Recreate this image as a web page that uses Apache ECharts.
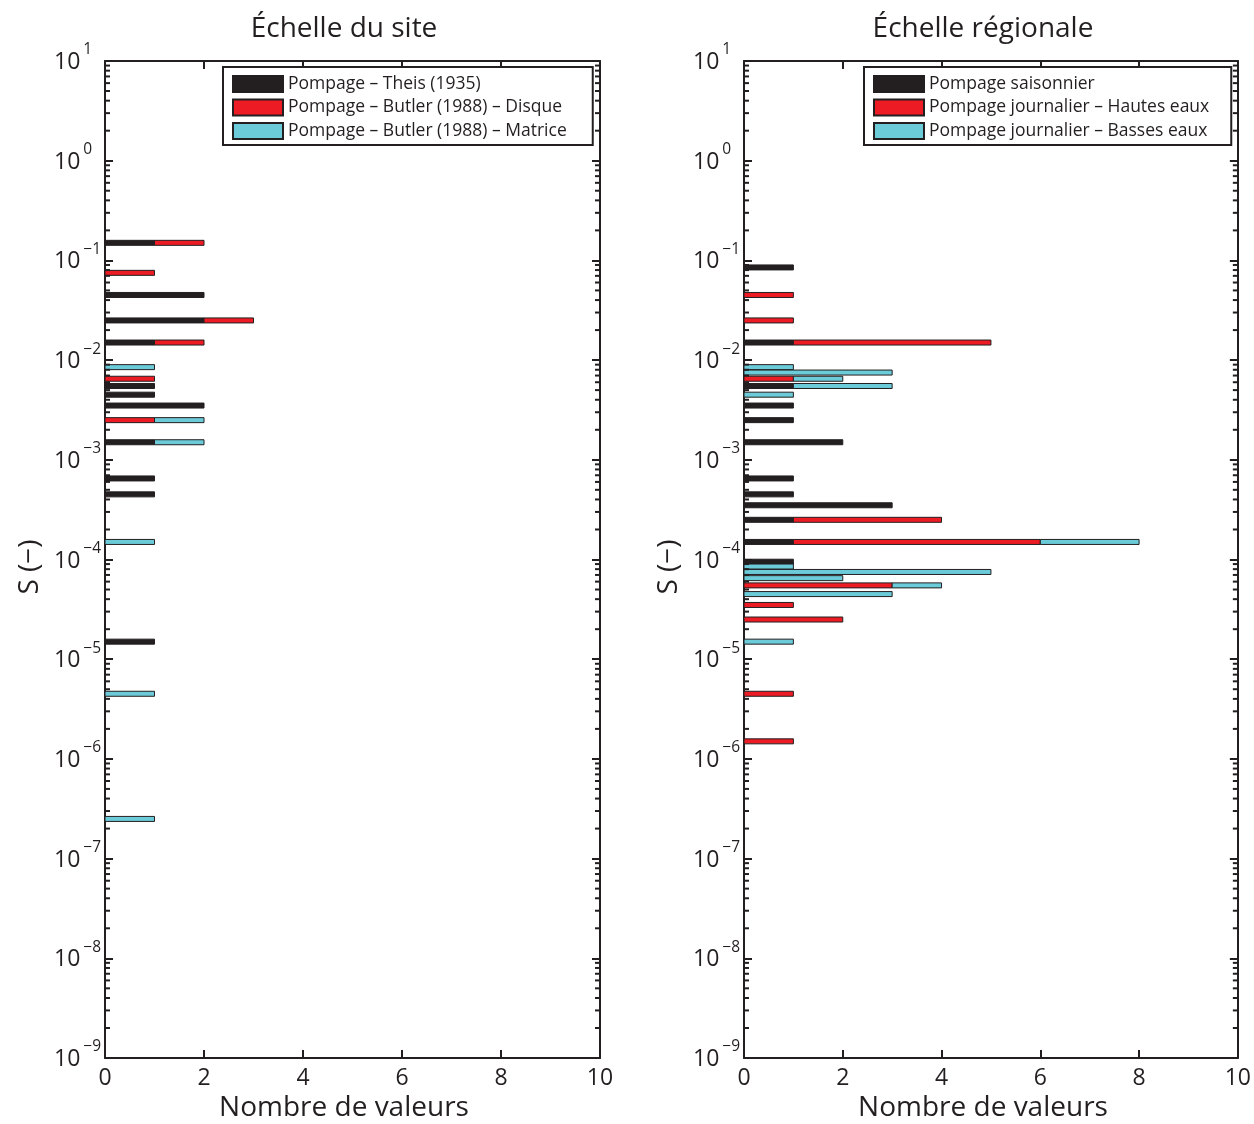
<!DOCTYPE html>
<html>
<head>
<meta charset="utf-8">
<script src="https://cdn.jsdelivr.net/npm/echarts@6/dist/echarts.min.js"></script>
<style>html,body{margin:0;padding:0;background:#fff;}#c{width:1254px;height:1124px;}</style>
</head>
<body>
<div id="c"></div>
<script>
// ---- Data: left panel (Échelle du site) ----
const S_SITE = [0.15, 0.075, 0.045, 0.025, 0.015, 0.0085, 0.0065, 0.0055, 0.0045, 0.0035, 0.0025, 0.0015, 6.5e-4, 4.5e-4, 1.5e-4, 1.5e-5, 4.5e-6, 2.5e-7];
const THEIS   = [1, 0, 2, 2, 1, 0, 0, 1, 1, 2, 0, 1, 1, 1, 0, 1, 0, 0];
const DISQUE  = [1, 1, 0, 1, 1, 0, 1, 0, 0, 0, 1, 0, 0, 0, 0, 0, 0, 0];
const MATRICE = [0, 0, 0, 0, 0, 1, 0, 0, 0, 0, 1, 1, 0, 0, 1, 0, 1, 1];

// ---- Data: right panel (Échelle régionale) ----
const S_REG   = [0.085, 0.045, 0.025, 0.015, 0.0085, 0.0075, 0.0065, 0.0055, 0.0045, 0.0035, 0.0025, 0.0015, 6.5e-4, 4.5e-4, 3.5e-4, 2.5e-4, 1.5e-4, 9.5e-5, 8.5e-5, 7.5e-5, 6.5e-5, 5.5e-5, 4.5e-5, 3.5e-5, 2.5e-5, 1.5e-5, 4.5e-6, 1.5e-6];
const SAISON  = [1, 0, 0, 1, 0, 0, 0, 1, 0, 1, 1, 2, 1, 1, 3, 1, 1, 1, 0, 0, 0, 0, 0, 0, 0, 0, 0, 0];
const HAUTES  = [0, 1, 1, 4, 0, 0, 1, 0, 0, 0, 0, 0, 0, 0, 0, 3, 5, 0, 0, 0, 0, 3, 0, 1, 2, 0, 1, 1];
const BASSES  = [0, 0, 0, 0, 1, 3, 1, 2, 1, 0, 0, 0, 0, 0, 0, 0, 2, 0, 1, 5, 2, 1, 3, 0, 0, 1, 0, 0];

// ---- Labels ----
const TITLES = ['Échelle du site', 'Échelle régionale'];
const NAMES_SITE = ['Pompage – Theis (1935)', 'Pompage – Butler (1988) – Disque', 'Pompage – Butler (1988) – Matrice'];
const NAMES_REG = ['Pompage saisonnier', 'Pompage journalier – Hautes eaux', 'Pompage journalier – Basses eaux'];
const X_NAME = 'Nombre de valeurs';
const Y_NAME = 'S (−)';
const COLORS = ['#231f20', '#ed1c24', '#6ccbd9'];
const INK = '#231f20';
const FONT = '"Open Sans", "Noto Sans", sans-serif';

// minor log ticks (2..9 x 10^k)
const MINOR = [];
for (let k = -9; k <= 0; k++) for (let m = 2; m <= 9; m++) MINOR.push([0, m * Math.pow(10, k)]);

function stacked(S, arrays) {
  const out = arrays.map(() => []);
  S.forEach((s, i) => {
    let acc = 0;
    arrays.forEach((arr, j) => {
      out[j].push([s, acc, acc + arr[i]]);
      acc += arr[i];
    });
  });
  return out;
}

function renderBar(params, api) {
  const s = api.value(0), x0 = api.value(1), x1 = api.value(2);
  if (!(x1 > x0)) return;
  const p0 = api.coord([x0, s]);
  const p1 = api.coord([x1, s]);
  return {
    type: 'rect',
    shape: { x: p0[0], y: p0[1] - 2.5, width: p1[0] - p0[0], height: 5 },
    style: { fill: api.visual('color'), stroke: INK, lineWidth: 1 }
  };
}

function renderMinor(params, api) {
  const p = api.coord([0, api.value(1)]);
  const cs = params.coordSys;
  return {
    type: 'group',
    children: [
      { type: 'line', shape: { x1: cs.x, y1: p[1], x2: cs.x + 5, y2: p[1] }, style: { stroke: INK, lineWidth: 2 } },
      { type: 'line', shape: { x1: cs.x + cs.width - 5, y1: p[1], x2: cs.x + cs.width, y2: p[1] }, style: { stroke: INK, lineWidth: 2 } }
    ]
  };
}

const grids = [
  { left: 105, top: 61, width: 495, height: 997 },
  { left: 744, top: 61, width: 495, height: 997 }
];

const xAxes = [], yAxes = [];
[0, 1].forEach(g => {
  const common = {
    gridIndex: g, type: 'value', min: 0, max: 10, interval: 2,
    axisLine: { onZero: false, lineStyle: { color: INK, width: 2 } },
    axisTick: { inside: true, length: 8, lineStyle: { color: INK, width: 2 } },
    splitLine: { show: false }
  };
  xAxes.push(Object.assign({}, common, {
    position: 'bottom',
    axisLabel: { fontSize: 23, color: INK, fontFamily: FONT, margin: 9 }
  }));
  xAxes.push(Object.assign({}, common, { position: 'top', axisLabel: { show: false } }));
  const ycommon = {
    gridIndex: g, type: 'log', logBase: 10, min: 1e-9, max: 10, splitNumber: 10,
    axisLine: { onZero: false, lineStyle: { color: INK, width: 2 } },
    axisTick: { inside: true, length: 8, lineStyle: { color: INK, width: 2 } },
    splitLine: { show: false }
  };
  yAxes.push(Object.assign({}, ycommon, {
    position: 'left',
    axisLabel: {
      align: 'left', margin: 51, color: INK, fontFamily: FONT,
      formatter: v => '{b|10}{e|' + String(Math.round(Math.log10(v))).replace('-', '−') + '}',
      rich: {
        b: { fontSize: 23, fontFamily: FONT, color: INK, padding: [3, 0, 0, 0] },
        e: { fontSize: 15.5, fontFamily: FONT, color: INK, padding: [0, 0, 22, 3] }
      }
    }
  }));
  yAxes.push(Object.assign({}, ycommon, { position: 'right', axisLabel: { show: false } }));
});

const series = [];
const siteData = stacked(S_SITE, [THEIS, DISQUE, MATRICE]);
const regData = stacked(S_REG, [SAISON, HAUTES, BASSES]);
[[siteData, NAMES_SITE, 0], [regData, NAMES_REG, 1]].forEach(([data, names, g]) => {
  data.forEach((d, j) => {
    series.push({
      type: 'custom', name: names[j],
      xAxisIndex: g * 2, yAxisIndex: g * 2,
      itemStyle: { color: COLORS[j], borderColor: INK, borderWidth: 1 },
      encode: { x: [1, 2], y: 0 },
      renderItem: renderBar,
      data: d, z: 3
    });
  });
  series.push({
    type: 'custom', name: 'minor' + g, silent: true,
    xAxisIndex: g * 2, yAxisIndex: g * 2,
    encode: { x: 0, y: 1 },
    renderItem: renderMinor,
    data: MINOR, z: 4
  });
});

const legends = [[NAMES_SITE, 223, 26], [NAMES_REG, 864, 22]].map(([names, left, pr]) => ({
  data: names, left: left, top: 67, orient: 'vertical',
  itemWidth: 50, itemHeight: 16, itemGap: 5.5, icon: 'rect',
  padding: [8, pr, 5, 9],
  borderColor: INK, borderWidth: 2, backgroundColor: '#fff',
  textStyle: { fontSize: 17.5, color: INK, fontFamily: FONT },
  selectedMode: false
}));

const centers = [344, 983];
const graphic = [];
centers.forEach((cx, i) => {
  graphic.push({ type: 'text', x: cx, y: 29, style: { text: TITLES[i], font: '28px ' + FONT, fill: INK, textAlign: 'center', textVerticalAlign: 'middle' } });
  graphic.push({ type: 'text', x: cx, y: 1108, style: { text: X_NAME, font: '28px ' + FONT, fill: INK, textAlign: 'center', textVerticalAlign: 'middle' } });
});
[30, 669].forEach(x => {
  graphic.push({ type: 'text', x: x, y: 567, rotation: Math.PI / 2, style: { text: Y_NAME, font: '28px ' + FONT, fill: INK, textAlign: 'center', textVerticalAlign: 'middle' } });
});

const chart = echarts.init(document.getElementById('c'), null, { renderer: 'canvas' });
chart.setOption({
  animation: false,
  backgroundColor: '#fff',
  grid: grids,
  xAxis: xAxes,
  yAxis: yAxes,
  legend: legends,
  graphic: graphic,
  series: series
});
</script>
</body>
</html>
